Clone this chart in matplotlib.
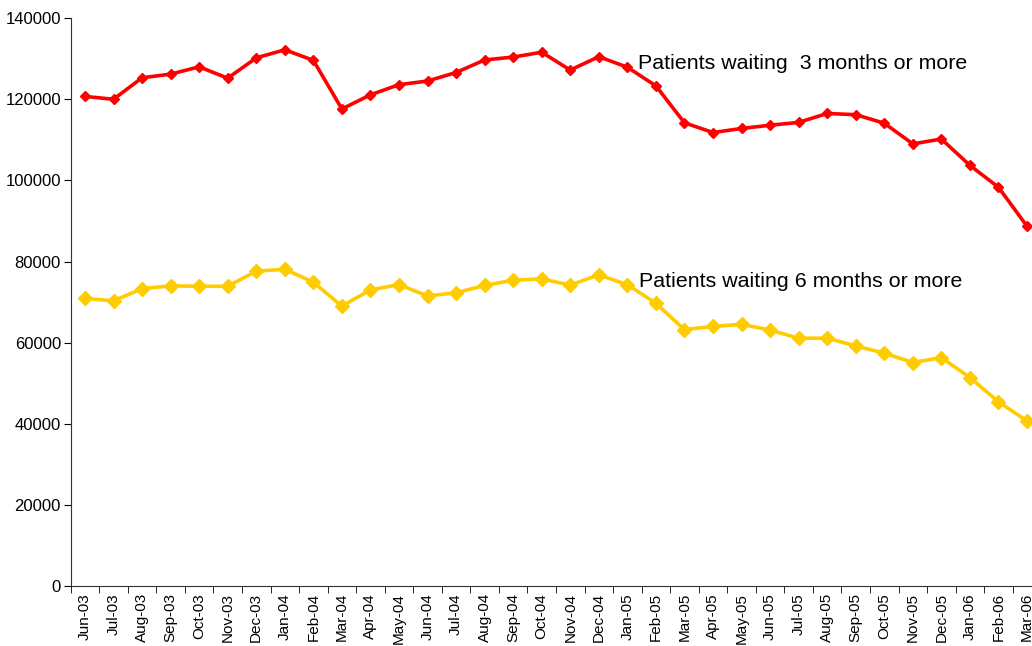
import numpy as np
import matplotlib.pyplot as plt

plt.rcParams['font.family'] = ['Liberation Sans', 'DejaVu Sans']

months = ['Jun-03', 'Jul-03', 'Aug-03', 'Sep-03', 'Oct-03', 'Nov-03', 'Dec-03',
          'Jan-04', 'Feb-04', 'Mar-04', 'Apr-04', 'May-04', 'Jun-04', 'Jul-04',
          'Aug-04', 'Sep-04', 'Oct-04', 'Nov-04', 'Dec-04', 'Jan-05', 'Feb-05',
          'Mar-05', 'Apr-05', 'May-05', 'Jun-05', 'Jul-05', 'Aug-05', 'Sep-05',
          'Oct-05', 'Nov-05', 'Dec-05', 'Jan-06', 'Feb-06', 'Mar-06']

wait_3m = [120700, 120000, 125300, 126200, 128000, 125200, 130200, 132200, 129600,
           117600, 121100, 123600, 124500, 126600, 129700, 130400, 131600, 127200,
           130500, 127900, 123300, 114200, 111800, 112800, 113600, 114300, 116500,
           116200, 114100, 109000, 110200, 103700, 98300, 88700]

wait_6m = [70900, 70300, 73300, 74000, 73900, 73900, 77600, 78100, 74900,
           69000, 73000, 74300, 71500, 72300, 74100, 75400, 75700, 74200,
           76700, 74300, 69700, 63200, 64000, 64500, 63100, 61100, 61100,
           59200, 57400, 55100, 56300, 51400, 45400, 40700]

label_3m = 'Patients waiting  3 months or more'
label_6m = 'Patients waiting 6 months or more'

fig = plt.figure(figsize=(10.32, 6.46), dpi=100)
ax = fig.add_axes([0.0685, 0.0929, 0.9405, 0.879])

x = np.arange(len(months))
ax.plot(x, wait_3m, color='#FF0000', linewidth=2.6, marker='D', markersize=5)
ax.plot(x, wait_6m, color='#FFCC00', linewidth=2.6, marker='D', markersize=7)

ax.text(19.36, 128700, label_3m, fontsize=15.4, va='center', ha='left')
ax.text(19.4, 75000, label_6m, fontsize=15.4, va='center', ha='left')

ax.set_xlim(-0.5, len(months) - 0.5)
ax.set_ylim(0, 140000)
ax.set_yticks(range(0, 140001, 20000))
ax.tick_params(axis='y', labelsize=12, length=5, direction='out', pad=2)

ax.set_xticks(x)
ax.set_xticklabels(months, rotation=90, fontsize=11)
ax.set_xticks(np.arange(len(months) + 1) - 0.5, minor=True)
ax.tick_params(axis='x', which='major', length=0, pad=5)
ax.tick_params(axis='x', which='minor', length=5, direction='out')

for side in ['top', 'right']:
    ax.spines[side].set_visible(False)
ax.spines['left'].set_color('#333333')
ax.spines['bottom'].set_color('#333333')

fig.savefig('out.png', dpi=100)
